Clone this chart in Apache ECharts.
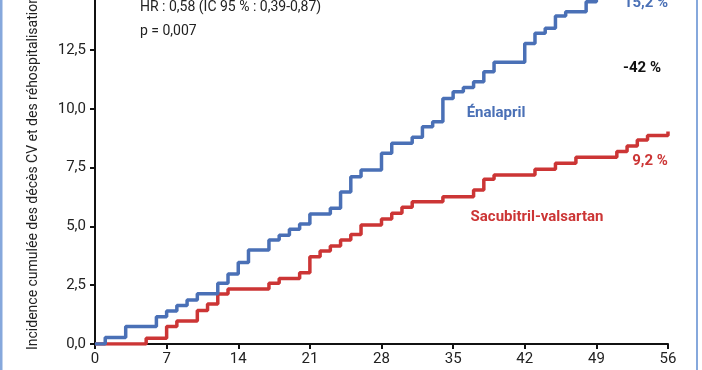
<!DOCTYPE html>
<html>
<head>
<meta charset="utf-8">
<script src="https://cdn.jsdelivr.net/npm/echarts@6/dist/echarts.min.js"></script>
<style>html,body{margin:0;padding:0;background:#fff}#c{width:702px;height:370px}</style>
</head>
<body>
<div id="c"></div>
<script>
// Days and cumulative incidence (%)
const enalaprilDays   = [0,1,3,6,7,8,9,10,12,13,14,15,17,18,19,20,21,23,24,25,26,28,29,31,32,33,34,35,36,37,38,39,42,43,44,45,46,48,49,51,53,56];
const enalaprilValues = [0,0.28,0.74,1.16,1.40,1.64,1.87,2.14,2.58,2.98,3.46,4.00,4.42,4.62,4.88,5.10,5.53,5.77,6.46,7.11,7.40,8.11,8.53,8.79,9.24,9.45,10.44,10.73,10.91,11.15,11.58,11.98,12.78,13.21,13.42,13.95,14.13,14.55,14.90,15.00,15.20,15.20];
const sacubitrilDays   = [0,5,7,8,10,11,12,13,17,18,20,21,22,23,24,25,26,28,29,30,31,34,37,38,39,43,45,47,51,52,53,54,56];
const sacubitrilValues = [0,0.24,0.74,0.98,1.42,1.70,2.13,2.34,2.58,2.79,3.03,3.71,3.95,4.17,4.42,4.66,5.06,5.31,5.56,5.81,6.05,6.26,6.55,7.00,7.19,7.43,7.68,7.94,8.18,8.42,8.67,8.86,9.03];
const xTicks = [0,7,14,21,28,35,42,49,56];
const yTickLabels = ['0,0','2,5','5,0','7,5','10,0','12,5','15,0'];

const BLUE = '#4a70b6', RED = '#cc3535';
const zip = (a,b) => a.map((d,i)=>[d,b[i]]);

const chart = echarts.init(document.getElementById('c'), null, {renderer:'canvas'});
chart.setOption({
  animation:false,
  backgroundColor:'#fff',
  grid:{left:95, right:34, top:-8.8, bottom:26, containLabel:false, outerBoundsMode:'none'},
  xAxis:{
    type:'value', min:xTicks[0], max:xTicks[xTicks.length-1], interval:7,
    axisLine:{show:true, lineStyle:{color:'#111', width:2}},
    axisTick:{show:true, length:5, lineStyle:{color:'#111', width:2}},
    axisLabel:{margin:8, color:'#222', fontFamily:'Roboto', fontSize:15},
    splitLine:{show:false}
  },
  yAxis:{
    type:'value', min:0, max:15, interval:2.5,
    axisLine:{show:true, lineStyle:{color:'#111', width:2}},
    axisTick:{show:true, length:5, lineStyle:{color:'#111', width:2}},
    axisLabel:{margin:9, color:'#222', fontFamily:'Roboto', fontSize:15,
      formatter:(v)=> yTickLabels[Math.round(v/2.5)]},
    splitLine:{show:false}
  },
  series:[
    {type:'line', step:'end', data:zip(sacubitrilDays,sacubitrilValues), showSymbol:false, symbol:'none',
     lineStyle:{color:RED, width:3.5}, z:2},
    {type:'line', step:'end', data:zip(enalaprilDays,enalaprilValues), showSymbol:false, symbol:'none',
     lineStyle:{color:BLUE, width:3.5}, z:3}
  ],
  graphic:[
    {type:'rect', shape:{x:0, y:0, width:2.5, height:370}, style:{fill:'#86a8dc'}},
    {type:'rect', shape:{x:696, y:0, width:2, height:370}, style:{fill:'#86a8dc'}},
    {type:'text', x:33, y:350, rotation:Math.PI/2,
     style:{text:'Incidence cumulée des décès CV et des réhospitalisations pour IC (%)', fill:'#222',
       font:'14px Roboto', textAlign:'left', textVerticalAlign:'middle'}},
    {type:'text', x:140, y:7, style:{text:'HR : 0,58 (IC 95 % : 0,39-0,87)', fill:'#222', font:'14px Roboto', textAlign:'left', textVerticalAlign:'middle'}},
    {type:'text', x:140, y:31, style:{text:'p = 0,007', fill:'#222', font:'14px Roboto', textAlign:'left', textVerticalAlign:'middle'}},
    {type:'text', x:642, y:68, style:{text:'-42 %', fill:'#111', font:'bold 15px Roboto', textAlign:'center', textVerticalAlign:'middle'}},
    {type:'text', x:646, y:3, style:{text:'15,2 %', fill:BLUE, font:'bold 15px Roboto', textAlign:'center', textVerticalAlign:'middle'}},
    {type:'text', x:650, y:161.5, style:{text:'9,2 %', fill:RED, font:'bold 15px Roboto', textAlign:'center', textVerticalAlign:'middle'}},
    {type:'text', x:496, y:113, style:{text:'Énalapril', fill:BLUE, font:'bold 15px Roboto', textAlign:'center', textVerticalAlign:'middle'}},
    {type:'text', x:537, y:217, style:{text:'Sacubitril-valsartan', fill:RED, font:'bold 15px Roboto', textAlign:'center', textVerticalAlign:'middle'}}
  ]
});
</script>
</body>
</html>
